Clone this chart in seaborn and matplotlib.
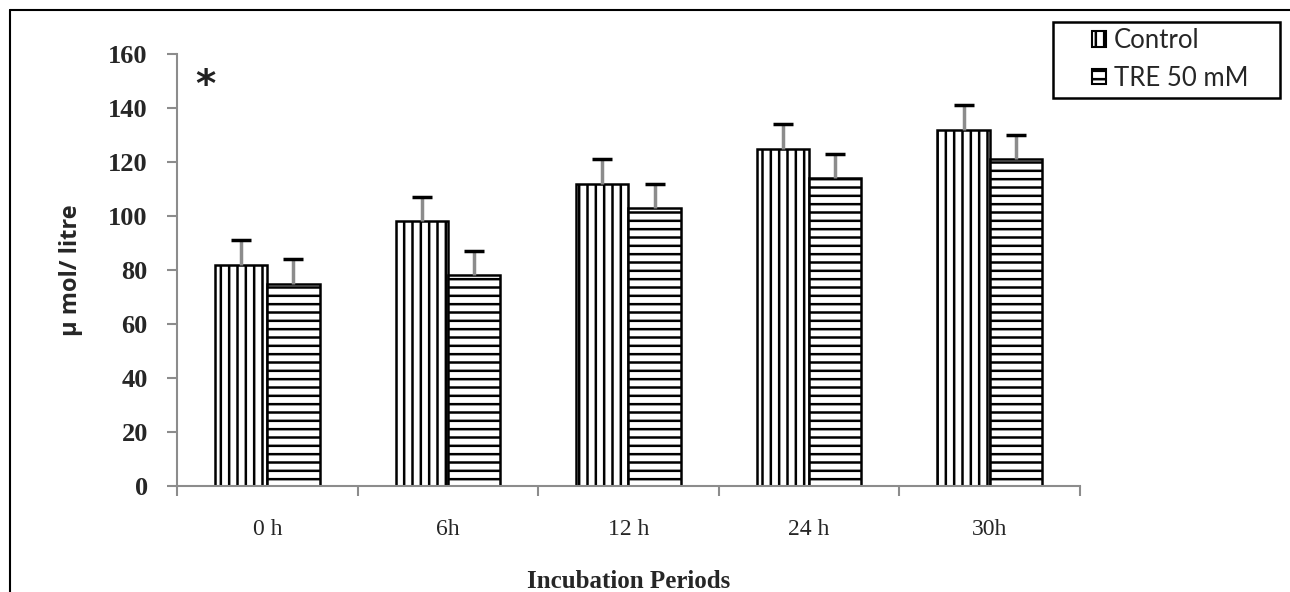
import numpy as np
import pandas as pd
import seaborn as sns
import matplotlib.pyplot as plt
import matplotlib.patches as mpatches
from matplotlib.lines import Line2D

## DATA
periods = ['0 h', '6h', '12 h', '24 h', '30h']
groups = ['Control', 'TRE 50 mM']
control_mean = [82, 98, 112, 125, 132]
control_err = [9, 9, 9, 9, 9]
tre_mean = [75, 78, 103, 114, 121]
tre_err = [9, 9, 9, 9, 9]
y_ticks = [0, 20, 40, 60, 80, 100, 120, 140, 160]

df = pd.DataFrame({'Period': periods * 2,
                   'Group': [groups[0]] * 5 + [groups[1]] * 5,
                   'Value': control_mean + tre_mean})
errs = [control_err, tre_err]
hatches = ['||', '--']

## STYLE
sns.set_theme(style='white')
plt.rcParams['hatch.linewidth'] = 1.8
plt.rcParams['hatch.color'] = 'black'
serif = ['Liberation Serif', 'DejaVu Serif']
sans = ['Open Sans', 'DejaVu Sans']
leg_font = ['Lato', 'DejaVu Sans']
grey = '#8c8c8c'

fig = plt.figure(figsize=(12.9, 5.92), dpi=100)
ax = fig.add_axes([0.1372, 0.179, 0.700, 0.7297])

sns.barplot(ax=ax, data=df, x='Period', y='Value', hue='Group',
            order=periods, hue_order=groups, palette=['white', 'white'],
            width=0.58, edgecolor='black', linewidth=1.8, errorbar=None,
            legend=False)

# hatches + one-sided error bars (grey stem, black cap)
for cont, h, e in zip(ax.containers, hatches, errs):
    for bar, err in zip(cont, e):
        bar.set_hatch(h)
        x = bar.get_x() + bar.get_width() / 2
        y = bar.get_height()
        _, caps, _ = ax.errorbar(x, y, yerr=[[0], [err]], fmt='none',
                                 ecolor=grey, elinewidth=2.5, capsize=7,
                                 capthick=2.5, zorder=5)
        caps[0].set_visible(False)
        caps[1].set_markeredgecolor('black')

# axes
ax.set_ylim(0, 160)
ax.set_xlim(-0.5, 4.5)
ax.set_yticks(y_ticks)
ax.set_yticklabels([str(t) for t in y_ticks], family=serif,
                   fontweight='bold', fontsize=19)
ax.set_xticks(np.arange(-0.5, 4.6, 1.0))
ax.set_xticklabels([])
ax.set_xticks(np.arange(5), minor=True)
ax.set_xticklabels(periods, minor=True, family=serif, fontsize=17)
ax.tick_params(axis='x', which='minor', length=0, pad=24)
ax.tick_params(axis='x', which='major', length=7, width=1.5, color=grey,
               direction='out', bottom=True)
ax.tick_params(axis='y', length=7, width=1.5, color=grey, direction='out',
               left=True, pad=14)
for s in ['top', 'right']:
    ax.spines[s].set_visible(False)
for s in ['left', 'bottom']:
    ax.spines[s].set_color(grey)
    ax.spines[s].set_linewidth(1.5)

ax.set_xlabel('Incubation Periods', family=serif, fontweight='bold',
              fontsize=18, labelpad=21)
ax.set_ylabel('\u03bc mol/ litre', family=sans, fontweight='bold',
              fontsize=17, labelpad=18)

ax.text(0.031, 148, '*', transform=ax.get_yaxis_transform(), fontsize=28,
        fontweight='bold', ha='center', va='center', color='#222222')

# legend
handles = [mpatches.Patch(facecolor='white', edgecolor='black', hatch=h,
                          linewidth=1.5) for h in hatches]
leg = fig.legend(handles, groups, loc='upper left',
                 bbox_to_anchor=(1092 / 1290, 1 - 28 / 592),
                 prop={'family': leg_font, 'size': 18.5},
                 frameon=False, handlelength=0.55, handleheight=0.55,
                 handletextpad=0.3, borderpad=0, labelspacing=0.5,
                 borderaxespad=0)
fig.add_artist(mpatches.Rectangle((1053 / 1290, 1 - 98 / 592), 227 / 1290,
                                  76 / 592, transform=fig.transFigure,
                                  facecolor='none', edgecolor='black', lw=1.8))

# figure border (top and left)
fig.add_artist(Line2D([0.0075, 1.0], [0.983, 0.983], color='black', lw=1.5,
                      transform=fig.transFigure))
fig.add_artist(Line2D([0.0075, 0.0075], [0.0, 0.983], color='black', lw=1.5,
                      transform=fig.transFigure))

plt.savefig('out.png', dpi=100)
